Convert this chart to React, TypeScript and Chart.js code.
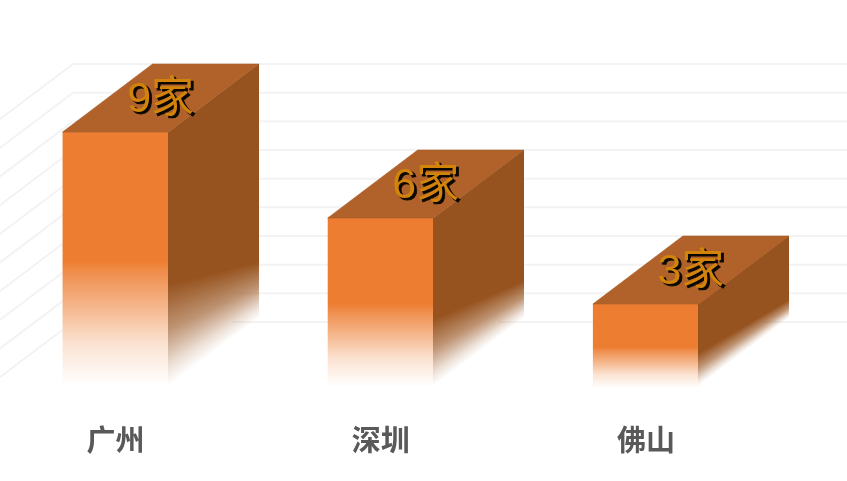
import React, { useEffect, useRef } from "react";
import { Chart, registerables } from "chart.js";

Chart.register(...registerables);

const categories = ["广州", "深圳", "佛山"];
const companies = [9, 6, 3];
const unit = "家";

const DEPTH_X = 90;
const DEPTH_Y = 68;

function frontFade(ctx: CanvasRenderingContext2D, y0: number, y1: number, rgb: string) {
  const g = ctx.createLinearGradient(0, y0, 0, y1);
  g.addColorStop(0, `rgba(${rgb},1)`);
  g.addColorStop(0.5, `rgba(${rgb},1)`);
  g.addColorStop(0.55, `rgba(${rgb},0.85)`);
  g.addColorStop(0.66, `rgba(${rgb},0.6)`);
  g.addColorStop(0.82, `rgba(${rgb},0.22)`);
  g.addColorStop(0.98, `rgba(${rgb},0)`);
  g.addColorStop(1, `rgba(${rgb},0)`);
  return g;
}

// one column of the side face: solid down to `start` (0..1), then fading out
function sideFade(
  ctx: CanvasRenderingContext2D,
  y0: number,
  y1: number,
  start: number,
  rgb: string,
) {
  const g = ctx.createLinearGradient(0, y0, 0, y1);
  const rest = 1 - start;
  g.addColorStop(0, `rgba(${rgb},1)`);
  g.addColorStop(start, `rgba(${rgb},1)`);
  g.addColorStop(start + rest * 0.45, `rgba(${rgb},0.62)`);
  g.addColorStop(start + rest * 0.8, `rgba(${rgb},0.18)`);
  g.addColorStop(1, `rgba(${rgb},0)`);
  return g;
}

const cube3d = {
  id: "cube3d",
  beforeDatasetsDraw(chart: any) {
    const { ctx, scales, width } = chart;
    const y = scales.y;
    const left = chart.chartArea.left;
    ctx.save();
    ctx.lineWidth = 2;
    ctx.strokeStyle = "#f3f3f3";
    y.ticks.forEach((t: any) => {
      const py = y.getPixelForValue(t.value);
      ctx.beginPath();
      ctx.moveTo(left, py);
      ctx.lineTo(left + DEPTH_X, py - DEPTH_Y);
      ctx.lineTo(width, py - DEPTH_Y);
      ctx.stroke();
    });
    // the front faces hide the grid behind them, even where they fade
    ctx.fillStyle = "#ffffff";
    chart.getDatasetMeta(0).data.forEach((bar: any) => {
      ctx.fillRect(bar.x - bar.width / 2, bar.y, bar.width, bar.base - bar.y);
    });
    ctx.restore();
  },
  afterDatasetsDraw(chart: any) {
    const { ctx } = chart;
    const meta = chart.getDatasetMeta(0);
    meta.data.forEach((bar: any, i: number) => {
      const w = bar.width;
      const x0 = bar.x - w / 2;
      const x1 = bar.x + w / 2;
      const top = bar.y;
      const bottom = bar.base - 4;
      const h = bottom - top;

      // side face: one-pixel columns, the fade gets shorter towards the back
      ctx.save();
      const sx = Math.floor(x1);
      for (let c = 0; c <= DEPTH_X; c++) {
        const t = c / DEPTH_X;
        const rise = DEPTH_Y * t;
        const colTop = top - rise;
        const colBottom = bottom - rise;
        if (t < 0.72) {
          ctx.fillStyle = "#ffffff";
          ctx.fillRect(sx + c, colTop + 3, 1, h);
        }
        ctx.fillStyle = sideFade(ctx, colTop, colBottom, 0.6 + 0.18 * t, "151,83,31");
        ctx.fillRect(sx + c, colTop, 1, h);
      }
      ctx.restore();

      // top face
      ctx.save();
      ctx.fillStyle = "#b0622a";
      ctx.strokeStyle = "#a85e28";
      ctx.lineWidth = 0.6;
      ctx.beginPath();
      ctx.moveTo(x0, top);
      ctx.lineTo(x1, top);
      ctx.lineTo(x1 + DEPTH_X, top - DEPTH_Y);
      ctx.lineTo(x0 + DEPTH_X, top - DEPTH_Y);
      ctx.closePath();
      ctx.fill();
      ctx.stroke();
      ctx.restore();

      // value label
      ctx.save();
      ctx.font = '43px "Liberation Sans", "Noto Sans CJK SC", sans-serif';
      ctx.textAlign = "center";
      ctx.textBaseline = "middle";
      const lx = bar.x + DEPTH_X / 2;
      const ly = top - DEPTH_Y / 2 + 2;
      const text = `${companies[i]}${unit}`;
      ctx.fillStyle = "#0c0800";
      ctx.fillText(text, lx + 2.5, ly + 2.5);
      ctx.strokeStyle = "#0c0800";
      ctx.lineWidth = 0.8;
      ctx.strokeText(text, lx + 2.5, ly + 2.5);
      ctx.fillStyle = "#d18409";
      ctx.fillText(text, lx, ly);
      ctx.restore();
    });
  },
};

export default function App() {
  const ref = useRef<HTMLCanvasElement>(null);

  useEffect(() => {
    const chart = new Chart(ref.current as HTMLCanvasElement, {
      type: "bar",
      data: {
        labels: categories,
        datasets: [
          {
            data: companies,
            barPercentage: 0.4,
            categoryPercentage: 1,
            borderWidth: 0,
            backgroundColor: (c: any) => {
              const y = c.chart.scales?.y;
              if (!y || typeof c.raw !== "number") return "#ed7d31";
              const p0 = y.getPixelForValue(c.raw);
              const p1 = y.getPixelForValue(0);
              if (!Number.isFinite(p0) || !Number.isFinite(p1)) return "#ed7d31";
              return frontFade(c.chart.ctx, p0, p1, "237,125,49");
            },
          },
        ],
      },
      options: {
        animation: false,
        responsive: false,
        devicePixelRatio: 1,
        layout: { padding: { top: 132, right: 68.5, left: 0, bottom: 0 } },
        plugins: { legend: { display: false }, tooltip: { enabled: false } },
        scales: {
          x: {
            grid: { display: false },
            border: { display: false },
            afterFit: (s: any) => {
              s.height = 91;
            },
            ticks: {
              padding: 25,
              maxRotation: 0,
              color: "#595959",
              font: { family: '"Noto Sans CJK SC", sans-serif', size: 29, weight: "bold" },
            },
          },
          y: {
            display: false,
            min: 0,
            max: 9,
            ticks: { stepSize: 1 },
          },
        },
      },
      plugins: [cube3d],
    } as any);
    return () => chart.destroy();
  }, []);

  return (
    <div
      style={{
        position: "absolute",
        left: 0,
        top: 0,
        width: 847,
        height: 481,
        overflow: "hidden",
        background: "#fff",
      }}
    >
      <canvas
        ref={ref}
        width={864}
        height={481}
        style={{ position: "absolute", left: -17, top: 0, width: 864, height: 481 }}
      />
    </div>
  );
}
